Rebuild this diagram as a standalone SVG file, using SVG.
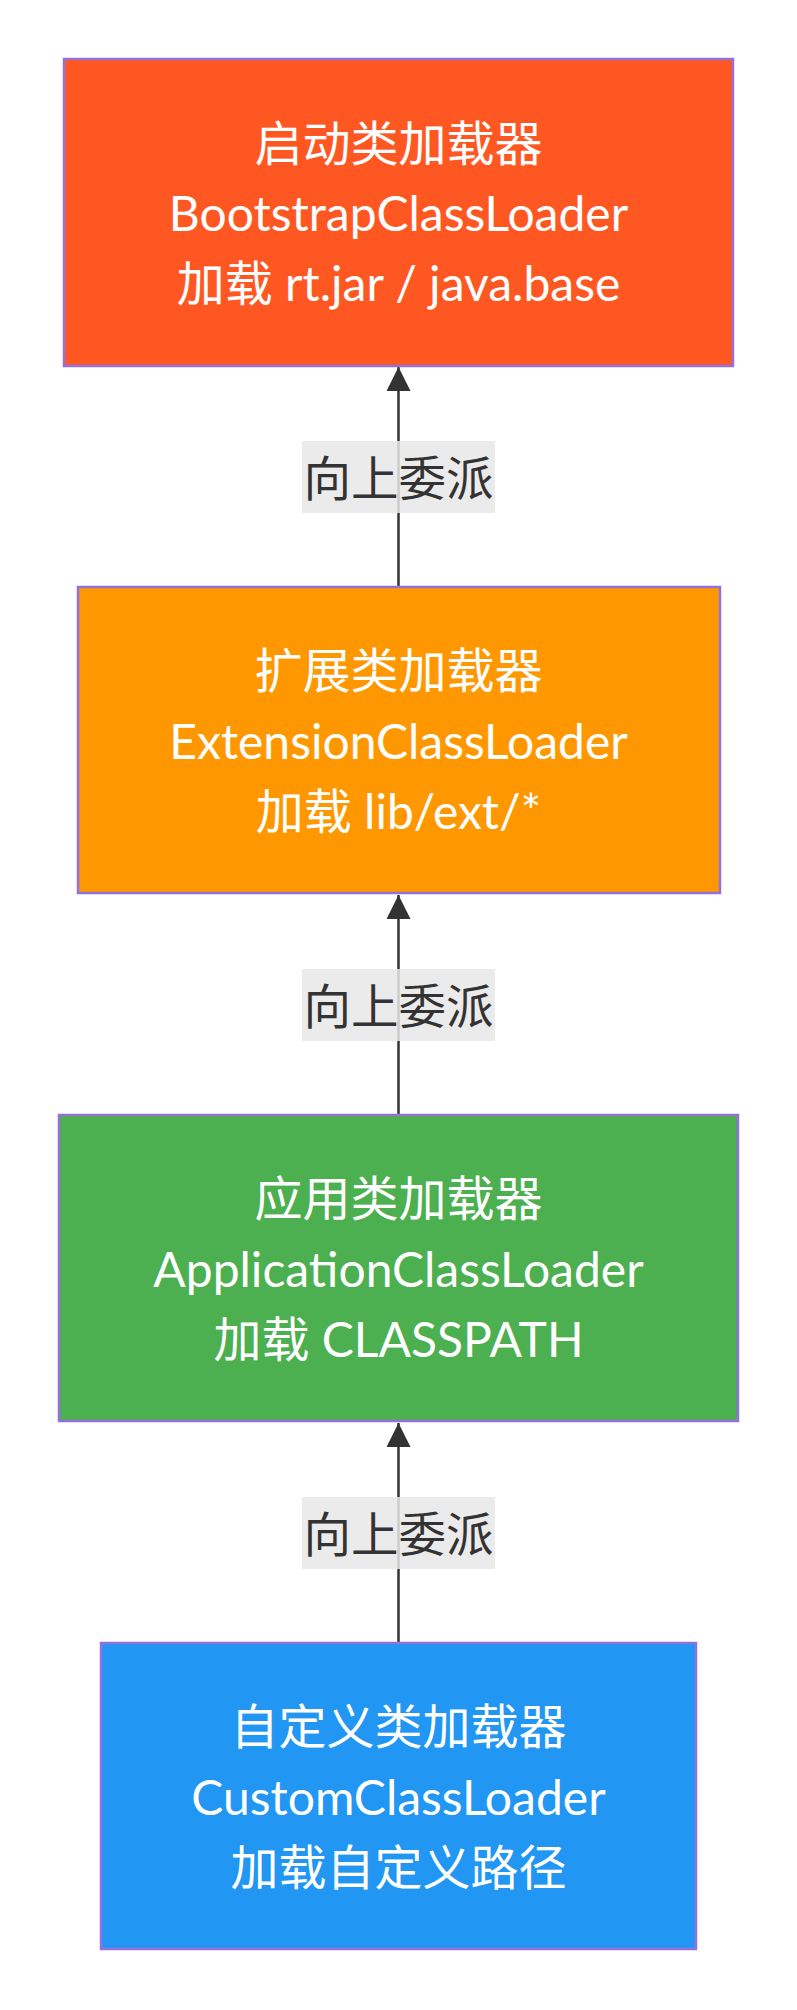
<svg xmlns="http://www.w3.org/2000/svg" width="797" height="2010" viewBox="0 0 797 2010">
<style>
.node rect{stroke:#9370DB;stroke-width:2.5}
.node text{fill:#ffffff;font-family:Lato,"Noto Sans CJK SC",sans-serif;font-size:48px;text-anchor:middle;dominant-baseline:central}
.edge{stroke:#333333;stroke-width:2.5;fill:none}
.lbl rect{fill:#e8e8e8;opacity:0.85}
.lbl text{fill:#333333;font-family:Lato,"Noto Sans CJK SC",sans-serif;font-size:47.5px;text-anchor:middle;dominant-baseline:central}
</style>
<defs>
<marker id="ah" viewBox="0 0 24 24" refX="24" refY="12" markerWidth="24" markerHeight="24" markerUnits="userSpaceOnUse" orient="auto">
<path d="M0,0 L24,12 L0,24 z" fill="#333333"/>
</marker>
</defs>
<rect width="797" height="2010" fill="#ffffff"/>
<g id="connectors">
<line class="edge" x1="398.5" y1="587" x2="398.5" y2="367" marker-end="url(#ah)"/>
<line class="edge" x1="398.5" y1="1115" x2="398.5" y2="895" marker-end="url(#ah)"/>
<line class="edge" x1="398.5" y1="1643" x2="398.5" y2="1423" marker-end="url(#ah)"/>
</g>
<g id="label1" class="lbl"><rect x="302" y="441" width="193" height="72"/><text x="398.5" y="477">向上委派</text></g>
<g id="label2" class="lbl"><rect x="302" y="969" width="193" height="72"/><text x="398.5" y="1005">向上委派</text></g>
<g id="label3" class="lbl"><rect x="302" y="1497" width="193" height="72"/><text x="398.5" y="1533">向上委派</text></g>
<g id="bootstrap" class="node">
<rect x="64" y="59" width="669" height="307" fill="#FF5722"/>
<text x="398.5" y="142">启动类加载器</text>
<text x="398.5" y="212">BootstrapClassLoader</text>
<text x="398.5" y="282">加载 rt.jar / java.base</text>
</g>
<g id="extension" class="node">
<rect x="78" y="587" width="642" height="306" fill="#FF9800"/>
<text x="398.5" y="669">扩展类加载器</text>
<text x="398.5" y="740">ExtensionClassLoader</text>
<text x="398.5" y="810">加载 lib/ext/*</text>
</g>
<g id="application" class="node">
<rect x="59" y="1115" width="679" height="306" fill="#4CAF50"/>
<text x="398.5" y="1197">应用类加载器</text>
<text x="398.5" y="1268">ApplicationClassLoader</text>
<text x="398.5" y="1338">加载 CLASSPATH</text>
</g>
<g id="custom" class="node">
<rect x="101" y="1643" width="595" height="306" fill="#2196F3"/>
<text x="398.5" y="1725">自定义类加载器</text>
<text x="398.5" y="1796">CustomClassLoader</text>
<text x="398.5" y="1866">加载自定义路径</text>
</g>
</svg>
